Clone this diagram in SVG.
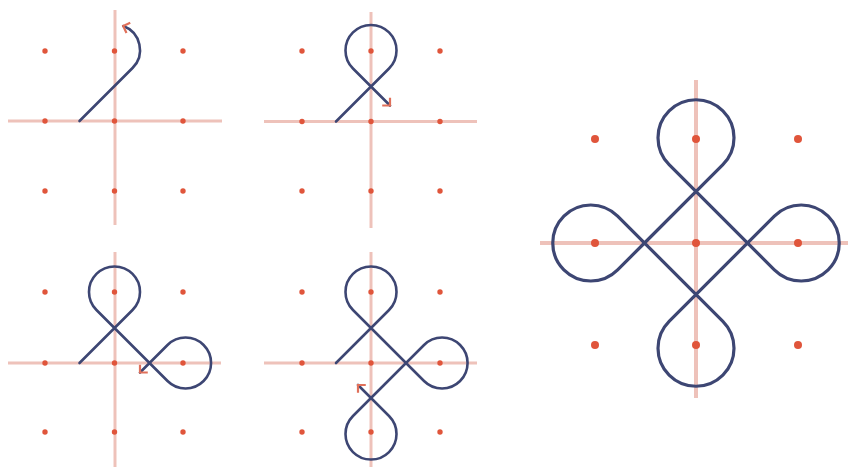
<svg xmlns="http://www.w3.org/2000/svg" width="848" height="467" viewBox="0 0 848 467">
<style>
.g{stroke:#eec2ba;stroke-width:3;fill:none}
.gb{stroke:#eec2ba;stroke-width:4;fill:none}
.d{fill:#e0553b}
.k{stroke:#3d4673;stroke-width:2.6;fill:none;stroke-linejoin:round;stroke-linecap:round}
.kb{stroke:#3d4673;stroke-width:3.2;fill:none;stroke-linejoin:round}
</style>
<defs>
<marker id="ah" viewBox="-9 -9 12 18" refX="0" refY="0" markerWidth="12" markerHeight="18" markerUnits="userSpaceOnUse" orient="auto">
<path d="M-5.5,-5.5 L0,0 L-5.5,5.5" fill="none" stroke="#e0705a" stroke-width="2.2"/>
</marker>
</defs>
<rect width="848" height="467" fill="#ffffff"/>

<g id="panel1">
<line class="g" x1="8" y1="121" x2="222" y2="121"/>
<line class="g" x1="115" y1="10" x2="115" y2="225"/>
<g class="d">
<circle cx="45" cy="51" r="2.7"/><circle cx="114.5" cy="51" r="2.7"/><circle cx="183" cy="51" r="2.7"/>
<circle cx="45" cy="121" r="2.7"/><circle cx="114.5" cy="121" r="2.7"/><circle cx="183" cy="121" r="2.7"/>
<circle cx="45" cy="191" r="2.7"/><circle cx="114.5" cy="191" r="2.7"/><circle cx="183" cy="191" r="2.7"/>
</g>
<path class="k" marker-end="url(#ah)" d="M79.5,121 L132.53,67.97 A25.5,25.5 0 0 0 123.2,25.98"/>
</g>

<g id="panel2">
<line class="g" x1="264" y1="121.5" x2="477" y2="121.5"/>
<line class="g" x1="371" y1="12" x2="371" y2="228"/>
<g class="d">
<circle cx="302" cy="51" r="2.7"/><circle cx="371" cy="51" r="2.7"/><circle cx="440" cy="51" r="2.7"/>
<circle cx="302" cy="121.5" r="2.7"/><circle cx="371" cy="121.5" r="2.7"/><circle cx="440" cy="121.5" r="2.7"/>
<circle cx="302" cy="191" r="2.7"/><circle cx="371" cy="191" r="2.7"/><circle cx="440" cy="191" r="2.7"/>
</g>
<path class="k" marker-end="url(#ah)" d="M336,121.5 L389.03,68.47 A25.5,25.5 0 1 0 352.97,68.47 L390,105.5"/>
</g>

<g id="panel3">
<line class="g" x1="8" y1="363" x2="221" y2="363"/>
<line class="g" x1="115" y1="252" x2="115" y2="467"/>
<g class="d">
<circle cx="45" cy="292" r="2.7"/><circle cx="114.5" cy="292" r="2.7"/><circle cx="183" cy="292" r="2.7"/>
<circle cx="45" cy="363" r="2.7"/><circle cx="114.5" cy="363" r="2.7"/><circle cx="183" cy="363" r="2.7"/>
<circle cx="45" cy="432" r="2.7"/><circle cx="114.5" cy="432" r="2.7"/><circle cx="183" cy="432" r="2.7"/>
</g>
<path class="k" marker-end="url(#ah)" d="M79.5,363 L132.53,309.97 A25.5,25.5 0 1 0 96.47,309.97 L167.53,381.03 A25.5,25.5 0 1 0 167.53,344.97 L140,372.5"/>
</g>

<g id="panel4">
<line class="g" x1="264" y1="363" x2="477" y2="363"/>
<line class="g" x1="371" y1="252" x2="371" y2="467"/>
<g class="d">
<circle cx="302" cy="292" r="2.7"/><circle cx="371" cy="292" r="2.7"/><circle cx="440" cy="292" r="2.7"/>
<circle cx="302" cy="363" r="2.7"/><circle cx="371" cy="363" r="2.7"/><circle cx="440" cy="363" r="2.7"/>
<circle cx="302" cy="432" r="2.7"/><circle cx="371" cy="432" r="2.7"/><circle cx="440" cy="432" r="2.7"/>
</g>
<path class="k" marker-end="url(#ah)" d="M336,363 L389.03,309.97 A25.5,25.5 0 1 0 352.97,309.97 L424.03,381.03 A25.5,25.5 0 1 0 424.03,344.97 L352.97,416.03 A25.5,25.5 0 1 0 389.03,416.03 L358,385"/>
</g>

<g id="final">
<line class="gb" x1="540" y1="243" x2="848" y2="243"/>
<line class="gb" x1="696" y1="80" x2="696" y2="398"/>
<g class="d">
<circle cx="595" cy="139" r="4"/><circle cx="696" cy="139" r="4"/><circle cx="798" cy="139" r="4"/>
<circle cx="595" cy="243" r="4"/><circle cx="696" cy="243" r="4"/><circle cx="798" cy="243" r="4"/>
<circle cx="595" cy="345" r="4"/><circle cx="696" cy="345" r="4"/><circle cx="798" cy="345" r="4"/>
</g>
<path class="kb" d="M644.5,243 L722.87,164.63 A38,38 0 1 0 669.13,164.63 L774.37,269.87 A38,38 0 1 0 774.37,216.13 L669.13,321.37 A38,38 0 1 0 722.87,321.37 L617.63,216.13 A38,38 0 1 0 617.63,269.87 Z"/>
</g>
</svg>
